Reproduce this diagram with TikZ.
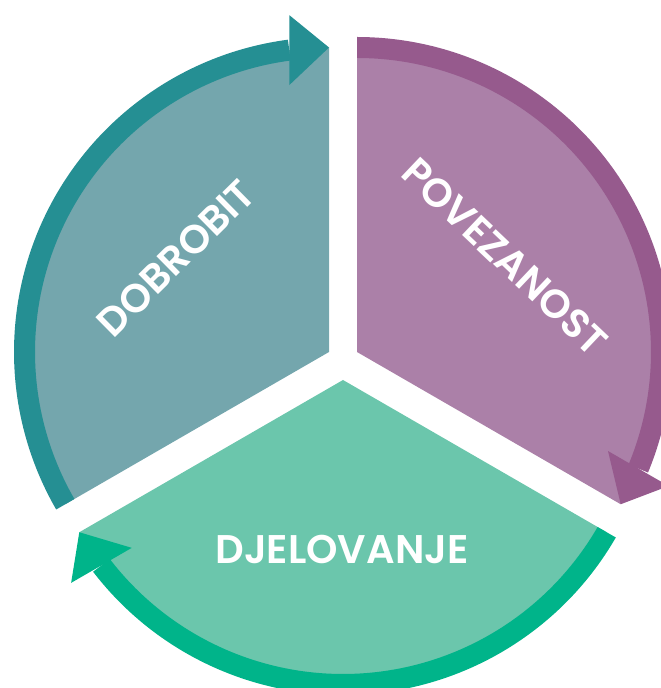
\documentclass[tikz,border=0pt]{standalone}
\usepackage{fontspec}
\newfontfamily\lblfont{Poppins SemiBold}
\usetikzlibrary{calc}
\definecolor{tealL}{RGB}{116,166,173}
\definecolor{tealD}{RGB}{37,143,147}
\definecolor{purpL}{RGB}{171,128,168}
\definecolor{purpD}{RGB}{150,90,141}
\definecolor{greenL}{RGB}{107,198,172}
\definecolor{greenD}{RGB}{0,180,138}
\newcommand\rin{294}
\newcommand\rout{315}
\newcommand\rmid{304.5}
% #1 apex, #2 band start angle, #3 tip angle, #4 base angle, #5 light, #6 dark
\newcommand\drawsector[6]{%
  \fill[#5] (#1) -- ($(#1)+(#2:\rmid)$) arc[start angle=#2, end angle=#3, radius=\rmid] -- cycle;
  \fill[#6] ($(#1)+(#2:\rin)$) -- ($(#1)+(#2:\rout)$) arc[start angle=#2, end angle=#4, radius=\rout]
     -- ($(#1)+(#4:\rin)$) arc[start angle=#4, end angle=#2, radius=\rin] -- cycle;
  \fill[#6] ($(#1)+(#4:\rmid)+(#3:35)$) -- ($(#1)+(#3:\rmid)$) -- ($(#1)+(#4:\rmid)+(#3+180:35)$) -- cycle;
}
\tikzset{lbl/.style={text=white, font=\lblfont\fontsize{40}{40}\selectfont, inner sep=0pt}}
\begin{document}
\begin{tikzpicture}[x=1pt,y=1pt]
\useasboundingbox (0,0) rectangle (661,688);
\clip (0,0) rectangle (661,688);
\coordinate (T) at (329,336);
\coordinate (P) at (357,336);
\coordinate (G) at (343,308);
\drawsector{T}{210}{90}{97.5}{tealL}{tealD}
\drawsector{P}{90}{-30}{-22.5}{purpL}{purpD}
\drawsector{G}{330}{210}{217.5}{greenL}{greenD}
\node[lbl, rotate=44.6] (dobrobit) at (176,430) {DOBROBIT};
\node[lbl, rotate=-43.5] (povezanost) at (505,431.3) {POVEZANOST};
\node[lbl] (djelovanje) at (342,139) {DJELOVANJE};
\end{tikzpicture}
\end{document}
